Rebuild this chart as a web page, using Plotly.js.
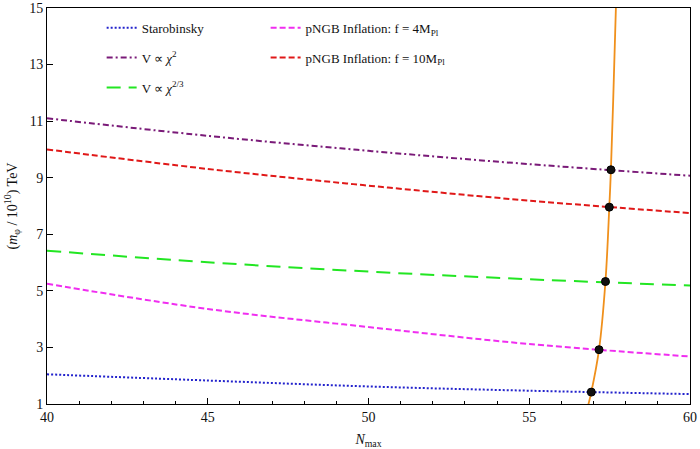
<!DOCTYPE html>
<html>
<head>
<meta charset="utf-8">
<script src="https://cdn.plot.ly/plotly-3.0.1.min.js"></script>
<style>html,body{margin:0;padding:0;background:#fff;}#chart{width:700px;height:449px;}</style>
</head>
<body>
<div id="chart"></div>
<script>
// Data
var nMax = [40, 45, 50, 55, 60];
var starobinsky = [2.05, 1.83, 1.62, 1.47, 1.35];
var chi2 = [11.1, 10.48, 9.95, 9.48, 9.07];
var chi23 = [6.42, 6.01, 5.68, 5.41, 5.19];
var pngb4 = [5.25, 4.36, 3.72, 3.12, 2.68];
var pngb10 = [10.0, 9.31, 8.72, 8.19, 7.75];

var boundX = [56.82, 56.93, 57.17, 57.37, 57.49, 57.54, 57.61, 57.70];
var boundY = [0.9, 1.42, 2.92, 5.33, 7.96, 9.28, 11.7, 15.2];

var dotX = [56.93, 57.17, 57.37, 57.49, 57.54];
var dotY = [1.42, 2.92, 5.33, 7.96, 9.28];

var serif = "Liberation Serif, Times New Roman, serif";

function series(y, name, color, dash, width, legend, group) {
  return {
    x: nMax, y: y, name: name, type: 'scatter', mode: 'lines',
    line: {color: color, dash: dash, width: width, shape: 'spline', smoothing: 1},
    legend: legend, legendgroup: group
  };
}

var traces = [
  series(starobinsky, 'Starobinsky', '#2222cc', '2px,2px', 2, 'legend', 'a'),
  series(chi2, 'V ∝ <i>χ</i><sup>2</sup>', '#7a1a78', '6px,3px,2px,3px', 2, 'legend', 'b'),
  series(chi23, 'V ∝ <i>χ</i><sup>2/3</sup>', '#22e622', '14px,8px', 2, 'legend', 'c'),
  series(pngb4, 'pNGB Inflation: f = 4M<sub>Pl</sub>', '#f02ef0', '6px,3px', 2, 'legend2', 'd'),
  series(pngb10, 'pNGB Inflation: f = 10M<sub>Pl</sub>', '#e01818', '6px,3px', 2, 'legend2', 'e'),
  {
    x: boundX, y: boundY, type: 'scatter', mode: 'lines', showlegend: false,
    line: {color: '#f0901c', width: 1.8, shape: 'spline', smoothing: 1}
  },
  {
    x: dotX, y: dotY, type: 'scatter', mode: 'markers', showlegend: false,
    marker: {color: '#111111', size: 8, line: {color: '#000', width: 1}}
  }
];

var legendBase = {
  font: {family: serif, size: 13, color: '#111'},
  bgcolor: 'rgba(0,0,0,0)', borderwidth: 0,
  traceorder: 'grouped', tracegroupgap: 10, itemwidth: 30,
  yanchor: 'top', xanchor: 'left'
};

var layout = {
  width: 700, height: 449,
  margin: {l: 47, r: 10, t: 8, b: 45},
  paper_bgcolor: '#fff', plot_bgcolor: '#fff',
  font: {family: serif, size: 14, color: '#111'},
  showlegend: true,
  legend: Object.assign({}, legendBase, {x: 0.085, y: 0.988}),
  legend2: Object.assign({}, legendBase, {x: 0.34, y: 0.988}),
  xaxis: {
    range: [40, 60], tickvals: [40, 45, 50, 55, 60],
    ticks: 'inside', ticklen: 6, tickcolor: '#000', tickwidth: 1,
    minor: {dtick: 1, ticks: 'inside', ticklen: 3, tickcolor: '#000', tickwidth: 1},
    showline: true, mirror: true, linecolor: '#000', linewidth: 1,
    showgrid: false, zeroline: false,
    tickfont: {family: serif, size: 14, color: '#111'},
    title: {text: '<i>N</i><sub>max</sub>', font: {family: serif, size: 14, color: '#111'}, standoff: 10}
  },
  yaxis: {
    range: [1, 15], tickvals: [1, 3, 5, 7, 9, 11, 13, 15],
    ticks: 'inside', ticklen: 6, tickcolor: '#000', tickwidth: 1,
    showline: true, mirror: true, linecolor: '#000', linewidth: 1,
    showgrid: false, zeroline: false,
    tickfont: {family: serif, size: 14, color: '#111'},
    title: {text: '(<i>m</i><sub>φ</sub> / 10<sup>10</sup>) TeV', font: {family: serif, size: 14, color: '#111'}, standoff: 8}
  }
};

Plotly.newPlot('chart', traces, layout, {displayModeBar: false, staticPlot: true});
</script>
</body>
</html>
